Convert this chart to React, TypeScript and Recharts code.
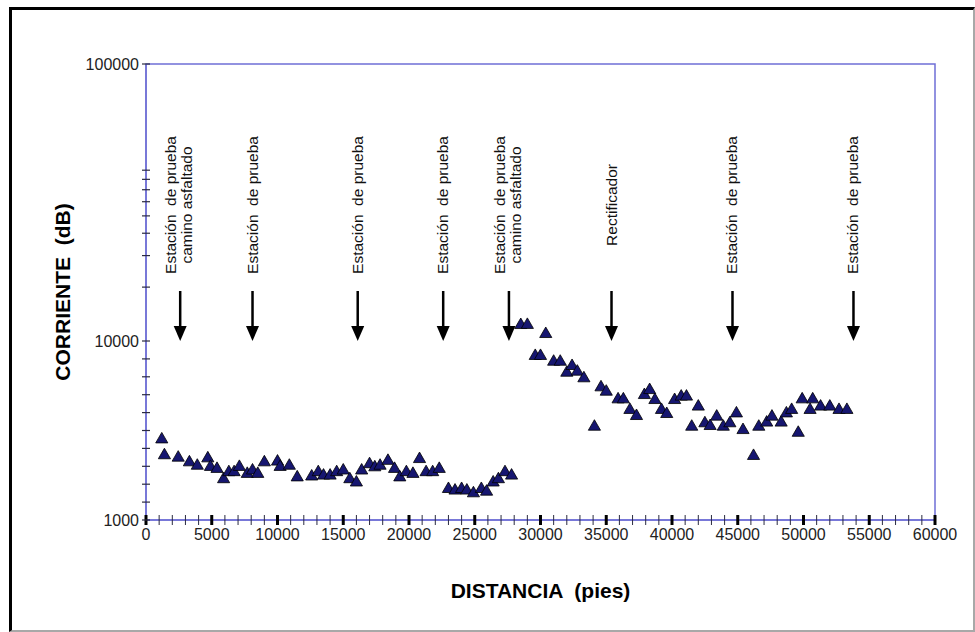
import React from 'react'
import { ScatterChart, Scatter, XAxis, YAxis, ZAxis, ReferenceArea, ReferenceDot, Label } from 'recharts'

// Distancia (pies) and corriente for each reading along the line
const distancia = [
  1200, 1400, 2450, 3300, 3900, 4700, 4900, 5400, 5900, 6300,
  6700, 7100, 7700, 8100, 8500, 9000, 10000, 10200, 10900, 11500,
  12600, 13100, 13500, 14000, 14500, 15000, 15500, 16000, 16400, 17000,
  17400, 17800, 18400, 18900, 19300, 19800, 20300, 20800, 21300, 21800,
  22300, 23000, 23500, 24000, 24400, 24900, 25500, 25900, 26400, 26800,
  27300, 27800,
  28500, 29000, 29600, 30000, 30400, 31000, 31500, 32000, 32400, 32800,
  33300, 34100, 34600, 35000, 35900, 36300, 36800, 37300, 37900, 38300,
  38700, 39200, 39600, 40200, 40700, 41100, 41500, 42000, 42500, 42900,
  43400, 43900, 44400, 44900, 45400, 46200, 46600, 47200, 47600, 48300,
  48700, 49100, 49600, 49900, 50500, 50700, 51300, 52000, 52700, 53300,
]
const corriente = [
  2820, 2300, 2230, 2100, 2010, 2210, 1980, 1930, 1690, 1850,
  1850, 1980, 1810, 1890, 1810, 2100, 2120, 1980, 2010, 1730,
  1750, 1850, 1770, 1770, 1850, 1890, 1690, 1620, 1890, 2050,
  1970, 2010, 2140, 1930, 1730, 1850, 1810, 2190, 1850, 1850,
  1930, 1490, 1460, 1490, 1460, 1410, 1490, 1440, 1620, 1690,
  1850, 1770,
  12280, 12300, 8250, 8250, 10940, 7660, 7660, 6650, 7250, 6740,
  6190, 3320, 5510, 5210, 4720, 4720, 4120, 3810, 4990, 5320,
  4680, 4120, 3910, 4680, 4890, 4890, 3320, 4300, 3470, 3350,
  3780, 3320, 3470, 3940, 3180, 2280, 3320, 3500, 3780, 3500,
  3940, 4120, 3070, 4720, 4120, 4720, 4300, 4300, 4120, 4120,
]

// Points of interest marked with an arrow over the readings
const estacionX = [2600, 8100, 16100, 22600, 27600, 35400, 44600, 53800]
const estacionTexto = [
  ['Estación  de prueba', 'camino asfaltado'],
  ['Estación  de prueba'],
  ['Estación  de prueba'],
  ['Estación  de prueba'],
  ['Estación  de prueba', 'camino asfaltado'],
  ['Rectificador'],
  ['Estación  de prueba'],
  ['Estación  de prueba'],
]

const xTicks = Array.from({ length: 61 }, (_, i) => i * 1000)
const yTicks = [
  1000, 1259, 1585, 1995, 2512, 3162, 3981, 5012, 6310, 7943,
  10000, 20000, 30000, 40000, 50000, 60000, 70000, 80000, 90000, 100000,
]
const yLabels = [1000, 10000, 100000]

const data = distancia.map((d, i) => ({ distancia: d, corriente: corriente[i] }))

const FONT = '"Liberation Sans", Arial, sans-serif'
const FRAME = '#6f6fd6'
const PRE = { whiteSpace: 'pre' as const }

// log axis: one decade takes 179 of the 456 px, the last step up to 100000 is stretched
const DECADE = 179 / 456
const KNEE = Math.log10(90)
function corrienteScale(domain: number[] = [1000, 100000], range: number[] = [0, 1]): any {
  const frac = (v: number) => {
    const d = Math.log10(Math.max(v, 1) / 1000)
    if (d <= KNEE) return d * DECADE
    return KNEE * DECADE + ((v - 90000) / 10000) * (1 - KNEE * DECADE)
  }
  const s: any = (v: number) => range[0] + frac(v) * (range[1] - range[0])
  s.domain = (d?: number[]) => (d ? corrienteScale(d, range) : domain.slice())
  s.range = (r?: number[]) => (r ? corrienteScale(domain, r) : range.slice())
  s.copy = () => corrienteScale(domain, range)
  s.ticks = () => yTicks
  s.tickFormat = () => (v: number) => String(v)
  return s
}

function XTick({ x, y, payload }: any) {
  const major = payload.value % 5000 === 0
  return (
    <g>
      <line x1={x} x2={x} y1={y - 5} y2={y + 5} stroke={major ? '#000' : '#2a2a40'} strokeWidth={major ? 3 : 1} />
      {major && (
        <text x={x} y={y + 20} textAnchor="middle" fontSize={16} fontFamily={FONT} fill="#222">
          {payload.value}
        </text>
      )}
    </g>
  )
}

function YTick({ x, y, payload }: any) {
  const major = yLabels.includes(payload.value)
  return (
    <g>
      <line x1={x - 4} x2={x + 4} y1={y} y2={y} stroke="#2a2a40" strokeWidth={1.2} />
      {major && (
        <text x={x - 7} y={y + 6} textAnchor="end" fontSize={16} fontFamily={FONT} fill="#222">
          {payload.value}
        </text>
      )}
    </g>
  )
}

function Estacion({ cx, cy, lines }: any) {
  const n = lines.length
  return (
    <g>
      <line x1={cx} x2={cx} y1={cy - 50} y2={cy - 12} stroke="#000" strokeWidth={2.5} />
      <polygon points={`${cx - 6.5},${cy - 15} ${cx + 6.5},${cy - 15} ${cx},${cy}`} fill="#000" />
      {lines.map((t: string, i: number) => {
        const tx = cx + (n === 1 ? 0 : i === 0 ? -9 : 7) + 5
        const ty = cy - 136
        return (
          <text key={i} transform={`translate(${tx},${ty}) rotate(-90)`} textAnchor="middle"
            fontSize={15.5} fontFamily={FONT} fill="#111" style={PRE}>
            {t}
          </text>
        )
      })}
    </g>
  )
}

export default function App() {
  return (
    <div style={{ position: 'absolute', left: 0, top: 0, width: 975, height: 632, background: '#fff' }}>
      <div style={{
        position: 'absolute', left: 9, top: 7, width: 961, height: 620,
        borderLeft: '3px solid #000', borderTop: '3px solid #000',
        borderRight: '2px solid #a8a8a8', borderBottom: '2px solid #a8a8a8',
      }} />
      <div style={{ position: 'absolute', left: 0, top: 0 }}>
        <ScatterChart width={975} height={632} margin={{ top: 64, right: 40, bottom: 0, left: 0 }}>
          <XAxis type="number" dataKey="distancia" domain={[0, 60000]} ticks={xTicks} interval={0}
            tickSize={0} tickMargin={0} tickLine={false} tick={<XTick />} height={112}
            axisLine={{ stroke: FRAME, strokeWidth: 1.5 }}>
            <Label content={({ viewBox }: any) => (
              <text x={viewBox.x + viewBox.width / 2} y={viewBox.y + 78} textAnchor="middle"
                fontSize={21} fontWeight="bold" fontFamily={FONT} fill="#000" style={PRE}>
                DISTANCIA  (pies)
              </text>
            )} />
          </XAxis>
          <YAxis type="number" dataKey="corriente" domain={[1000, 100000]} scale={corrienteScale()}
            ticks={yTicks} interval={0} allowDataOverflow width={146}
            tickSize={0} tickMargin={0} tickLine={false} tick={<YTick />}
            axisLine={{ stroke: FRAME, strokeWidth: 1.5 }}>
            <Label content={({ viewBox }: any) => (
              <text transform={`translate(${viewBox.x + 70},${viewBox.y + viewBox.height / 2}) rotate(-90)`}
                textAnchor="middle" fontSize={21} fontWeight="bold" fontFamily={FONT} fill="#000" style={PRE}>
                CORRIENTE  (dB)
              </text>
            )} />
          </YAxis>
          <ZAxis range={[45, 45]} />
          <ReferenceArea x1={0} x2={60000} y1={1000} y2={100000} fill="none"
            stroke={FRAME} strokeWidth={1.5} ifOverflow="visible" />
          <Scatter data={data} shape="triangle" fill="#161670" stroke="#000" strokeWidth={0.8}
            isAnimationActive={false} />
          {estacionX.map((sx, i) => (
            <ReferenceDot key={i} x={sx} y={10000} r={0} ifOverflow="visible"
              shape={(p: any) => <Estacion cx={p.cx} cy={p.cy} lines={estacionTexto[i]} />} />
          ))}
        </ScatterChart>
      </div>
    </div>
  )
}
